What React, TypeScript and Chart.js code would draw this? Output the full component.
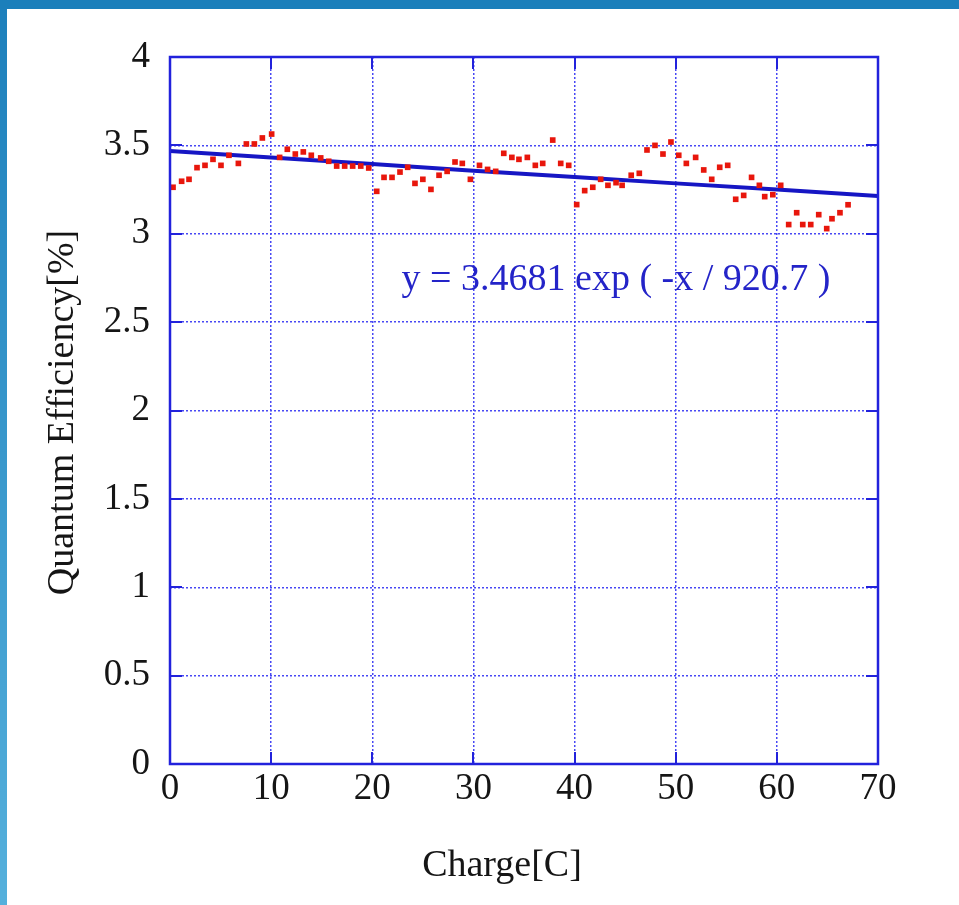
import React, { useEffect, useRef } from "react";
import { Chart, registerables } from "chart.js";

Chart.register(...registerables);

// ---- data ----
const chargeC: number[] = [
  0.3, 1.15, 1.88, 2.67, 3.46, 4.25, 5.04, 5.83, 6.76, 7.55, 8.34, 9.13, 10.05, 10.84,
  11.6, 12.39, 13.18, 13.97, 14.9, 15.69, 16.48, 17.27, 18.06, 18.86, 19.65, 20.44, 21.16,
  21.95, 22.74, 23.5, 24.22, 25.0, 25.8, 26.6, 27.4, 28.18, 28.9, 29.7, 30.6, 31.4, 32.2,
  33.0, 33.8, 34.5, 35.33, 36.12, 36.85, 37.84, 38.63, 39.42, 40.21, 41.0, 41.8, 42.58,
  43.3, 44.1, 44.7, 45.6, 46.4, 47.16, 47.95, 48.74, 49.53, 50.3, 51.05, 51.97, 52.77,
  53.56, 54.35, 55.14, 55.93, 56.72, 57.5, 58.27, 58.8, 59.6, 60.38, 61.17, 61.96, 62.56,
  63.35, 64.14, 64.93, 65.45, 66.24, 67.04,
];
const qePercent: number[] = [
  3.263, 3.297, 3.308, 3.374, 3.387, 3.421, 3.387, 3.444, 3.398, 3.508, 3.508, 3.542, 3.564, 3.432,
  3.478, 3.451, 3.463, 3.444, 3.429, 3.41, 3.383, 3.383, 3.383, 3.383, 3.372, 3.24, 3.319,
  3.319, 3.349, 3.376, 3.285, 3.308, 3.251, 3.331, 3.353, 3.406, 3.398, 3.308, 3.387, 3.364, 3.353,
  3.455, 3.432, 3.421, 3.432, 3.387, 3.398, 3.53, 3.398, 3.387, 3.165, 3.244, 3.263, 3.308,
  3.274, 3.289, 3.274, 3.331, 3.342, 3.474, 3.5, 3.451, 3.519, 3.444, 3.398, 3.432, 3.361,
  3.308, 3.376, 3.387, 3.195, 3.217, 3.319, 3.274, 3.21, 3.221, 3.274, 3.052, 3.119, 3.052,
  3.052, 3.108, 3.029, 3.085, 3.119, 3.164,
];
const fitCharge: number[] = [0, 10, 20, 30, 40, 50, 60, 70];
const fitQe: number[] = [3.468, 3.431, 3.394, 3.357, 3.321, 3.285, 3.25, 3.214];

const xMin = 0;
const xMax = 70;
const xStep = 10;
const yMin = 0;
const yMax = 4;
const yStep = 0.5;

const xTitle = "Charge[C]";
const yTitle = "Quantum Efficiency[%]";
const fitLabel = "y = 3.4681 exp ( -x / 920.7 )";
const fitLabelCharge = 22.9;
const fitLabelQe = 2.74;

// ---- styles ----
const FONT = "'Liberation Serif', 'Times New Roman', serif";
const FRAME = "#2222dc";
const GRID = "#4848f4";

const decorPlugin = {
  id: "decor",
  afterDraw(chart: any) {
    const { ctx, chartArea, scales } = chart;
    const { left, right, top, bottom } = chartArea;
    const xs = scales.x;
    const ys = scales.y;
    ctx.save();
    // inner tick marks (gnuplot style)
    ctx.strokeStyle = FRAME;
    ctx.lineWidth = 2;
    const tl = 12;
    ctx.beginPath();
    for (let v = xMin; v <= xMax + 1e-9; v += xStep) {
      const px = Math.round(xs.getPixelForValue(v));
      ctx.moveTo(px, bottom);
      ctx.lineTo(px, bottom - tl);
      ctx.moveTo(px, top);
      ctx.lineTo(px, top + tl);
    }
    for (let v = yMin; v <= yMax + 1e-9; v += yStep) {
      const py = Math.round(ys.getPixelForValue(v));
      ctx.moveTo(left, py);
      ctx.lineTo(left + tl, py);
      ctx.moveTo(right, py);
      ctx.lineTo(right - tl, py);
    }
    ctx.stroke();
    // frame
    ctx.lineWidth = 2.5;
    ctx.strokeRect(left, top, right - left, bottom - top);

    // fit label
    ctx.fillStyle = "#2424c8";
    ctx.font = `38px ${FONT}`;
    ctx.textAlign = "left";
    ctx.textBaseline = "middle";
    ctx.fillText(fitLabel, xs.getPixelForValue(fitLabelCharge), ys.getPixelForValue(fitLabelQe));

    // axis titles
    ctx.fillStyle = "#151515";
    ctx.textAlign = "center";
    ctx.fillText(xTitle, 502, 866);
    ctx.translate(63, (top + bottom) / 2 + 2);
    ctx.rotate(-Math.PI / 2);
    ctx.fillText(yTitle, 0, 0);
    ctx.restore();
  },
};

export default function App() {
  const ref = useRef<HTMLCanvasElement | null>(null);

  useEffect(() => {
    if (!ref.current) return;
    const chart = new Chart(ref.current, {
      type: "scatter",
      data: {
        datasets: [
          {
            label: "QE",
            data: chargeC.map((c, i) => ({ x: c, y: qePercent[i] })),
            pointStyle: "rect",
            pointRadius: 4,
            pointBackgroundColor: "#e8160c",
            pointBorderColor: "#e8160c",
            pointBorderWidth: 0,
            showLine: false,
            order: 0,
          },
          {
            label: "fit",
            type: "line",
            data: fitCharge.map((c, i) => ({ x: c, y: fitQe[i] })),
            borderColor: "#1616c4",
            borderWidth: 4,
            pointRadius: 0,
            fill: false,
            tension: 0,
            order: 1,
          } as any,
        ],
      },
      options: {
        responsive: false,
        animation: false,
        devicePixelRatio: 1,
        layout: { padding: { left: 0, top: 57, right: 81, bottom: 0 } },
        plugins: {
          legend: { display: false },
          tooltip: { enabled: false },
          title: { display: false },
        },
        scales: {
          x: {
            type: "linear",
            min: xMin,
            max: xMax,
            afterFit: (axis: any) => {
              axis.height = 141;
            },
            ticks: {
              stepSize: xStep,
              color: "#151515",
              font: { family: FONT, size: 37 },
              padding: 3,
              maxRotation: 0,
              callback: (v: any) => String(v),
            },
            grid: {
              color: GRID,
              lineWidth: 1.5,
              drawTicks: false,
            },
            border: { display: false, dash: [2, 2] },
          },
          y: {
            type: "linear",
            min: yMin,
            max: yMax,
            afterFit: (axis: any) => {
              axis.width = 170;
            },
            ticks: {
              stepSize: yStep,
              color: "#151515",
              font: { family: FONT, size: 37 },
              padding: 20,
              callback: (v: any) => String(v),
            },
            grid: {
              color: GRID,
              lineWidth: 1.5,
              drawTicks: false,
            },
            border: { display: false, dash: [2, 2] },
          },
        },
      },
      plugins: [decorPlugin],
    });
    return () => chart.destroy();
  }, []);

  return (
    <div
      style={{
        position: "fixed",
        left: 0,
        top: 0,
        width: 959,
        height: 905,
        background: "#ffffff",
        overflow: "hidden",
      }}
    >
      <canvas ref={ref} width={959} height={905} style={{ position: "absolute", left: 0, top: 0 }} />
      <div
        style={{
          position: "absolute",
          left: 0,
          top: 0,
          width: 959,
          height: 9,
          background: "#1b7fbb",
        }}
      />
      <div
        style={{
          position: "absolute",
          left: 0,
          top: 9,
          width: 7,
          height: 896,
          background: "linear-gradient(#1d80bc, #55b0dc)",
        }}
      />
    </div>
  );
}
